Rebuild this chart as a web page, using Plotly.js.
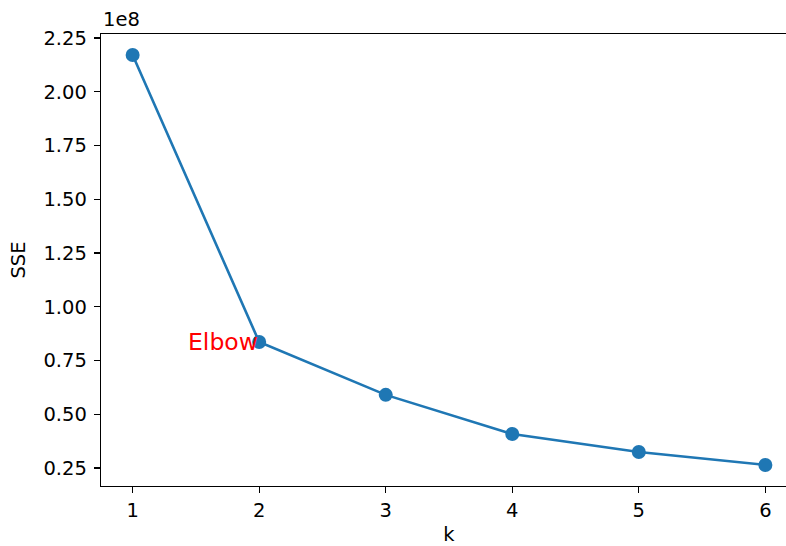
<!DOCTYPE html>
<html>
<head>
<meta charset="utf-8">
<script src="https://cdn.plot.ly/plotly-3.0.1.min.js"></script>
<style>
  html, body { margin: 0; padding: 0; overflow: hidden; background: #fff; }
  #chart { width: 800px; height: 546px; }
</style>
</head>
<body>
<div id="chart"></div>
<script>
// Elbow curve: sum of squared errors for each number of clusters k
const kValues = [1, 2, 3, 4, 5, 6];
const sseValues = [2.171e8, 0.836e8, 0.590e8, 0.408e8, 0.324e8, 0.264e8];
const yTickLabels = ['0.25', '0.50', '0.75', '1.00', '1.25', '1.50', '1.75', '2.00', '2.25'];
const yScale = 1e8;
const elbowIndex = 1;

const trace = {
  x: kValues,
  y: sseValues,
  type: 'scatter',
  mode: 'lines+markers',
  line: { color: '#1f77b4', width: 2.6 },
  marker: { color: '#1f77b4', size: 14 },
  hoverinfo: 'x+y'
};

const font = { family: 'DejaVu Sans, sans-serif', size: 19.5, color: '#000' };

const layout = {
  width: 800,
  height: 546,
  margin: { l: 101, r: 3, t: 34, b: 60 },
  paper_bgcolor: '#fff',
  plot_bgcolor: '#fff',
  showlegend: false,
  font: font,
  xaxis: {
    range: [0.75, 6.25],
    tickvals: kValues,
    ticktext: kValues.map(String),
    ticks: 'outside', ticklen: 6, tickwidth: 1.3, tickcolor: '#000',
    showline: true, linecolor: '#000', linewidth: 1.3, mirror: true,
    showgrid: false, zeroline: false,
    tickfont: font,
    title: { text: 'k', font: font, standoff: 6 }
  },
  yaxis: {
    range: [0.166e8, 2.269e8],
    tickvals: yTickLabels.map(t => parseFloat(t) * yScale),
    ticktext: yTickLabels,
    ticks: 'outside', ticklen: 6, tickwidth: 1.3, tickcolor: '#000',
    ticklabelstandoff: 3,
    showline: true, linecolor: '#000', linewidth: 1.3, mirror: true,
    showgrid: false, zeroline: false,
    tickfont: font,
    title: { text: 'SSE', font: font, standoff: 12 }
  },
  annotations: [
    {
      x: kValues[elbowIndex], y: sseValues[elbowIndex],
      xref: 'x', yref: 'y',
      text: 'Elbow',
      showarrow: false,
      xanchor: 'right', yanchor: 'middle',
      xshift: 1,
      font: { family: 'DejaVu Sans, sans-serif', size: 23.5, color: 'red' }
    },
    {
      x: 0, y: 1, xref: 'paper', yref: 'paper',
      text: '1e8',
      showarrow: false,
      xanchor: 'left', yanchor: 'bottom',
      yshift: 1,
      font: font
    }
  ]
};

Plotly.newPlot('chart', [trace], layout, { displayModeBar: false, staticPlot: true });
</script>
</body>
</html>
